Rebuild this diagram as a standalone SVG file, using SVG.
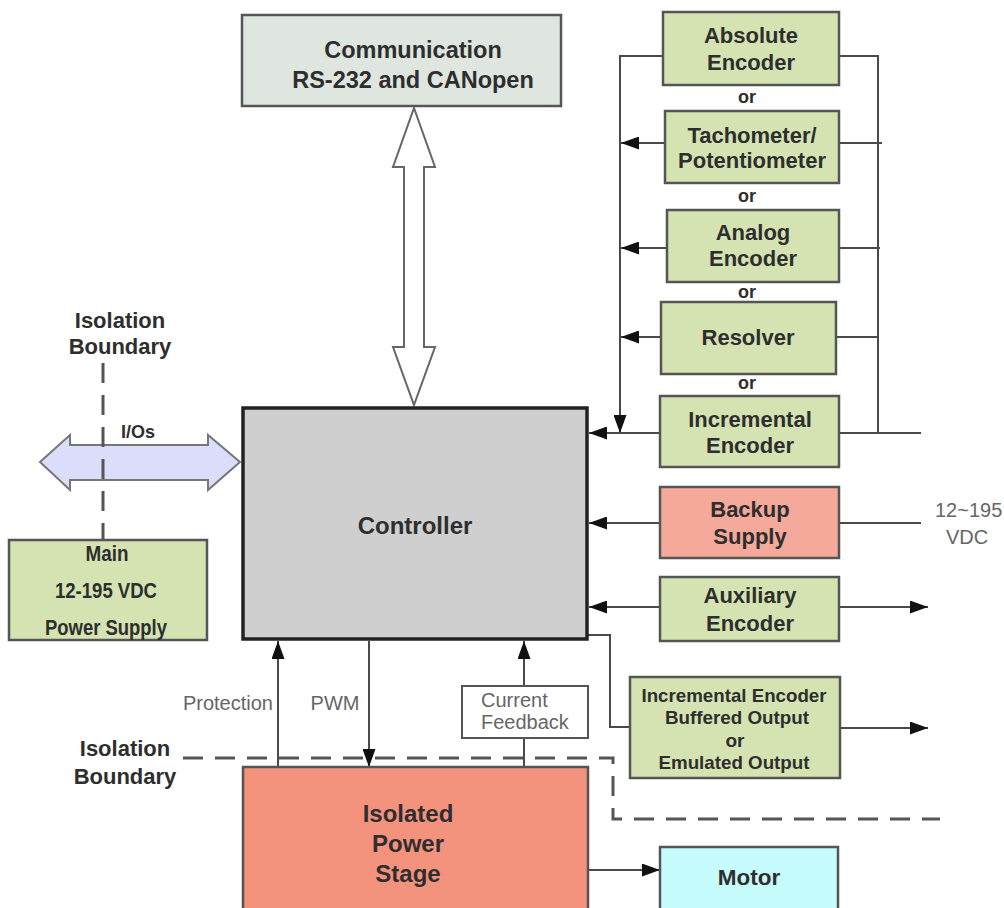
<svg xmlns="http://www.w3.org/2000/svg" width="1004" height="908" viewBox="0 0 1004 908">
<defs>
<marker id="ah" viewBox="0 0 18 13" refX="18" refY="6.5" markerWidth="18" markerHeight="13" markerUnits="userSpaceOnUse" orient="auto">
<path d="M0,0 L18,6.5 L0,13 z" fill="#111"/>
</marker>
<style>
.box{stroke:#555;stroke-width:2.5}
.green{fill:#d5e3b2}
.t{font-family:"Liberation Sans",Arial,sans-serif;font-weight:bold;fill:#2e2e2e;text-anchor:middle;dominant-baseline:central}
.r{font-family:"Liberation Sans",Arial,sans-serif;fill:#666;dominant-baseline:central}
.ln{fill:none;stroke:#4a4a4a;stroke-width:2}
.arr{fill:none;stroke:#4a4a4a;stroke-width:2;marker-end:url(#ah)}
.dash{fill:none;stroke:#555;stroke-width:3;stroke-dasharray:20 12}
</style>
</defs>
<rect width="1004" height="908" fill="#fff"/>

<g id="connectors">
<polygon points="414,108 435,167 424,167 424,347 435,347 414,405 393,347 404,347 404,167 393,167" fill="#fff" stroke="#666" stroke-width="2"/>
<polygon points="40,462 70,435 70,445 208,445 208,435 240,462 208,490 208,480 70,480 70,490" fill="#dcdcfb" stroke="#777" stroke-width="2"/>
<path class="dash" d="M103,363 V540" stroke-width="2.5"/>
<path class="dash" d="M183,758 H613 V819 H940"/>
<path class="ln" d="M663,56 H620 V415"/>
<path class="arr" d="M620,405 V433"/>
<path class="ln" d="M839,56 H878 V433"/>
<path class="arr" d="M665,143 H621"/>
<path class="ln" d="M839,143 H882"/>
<path class="arr" d="M667,248 H621"/>
<path class="ln" d="M839,248 H880"/>
<path class="arr" d="M661,337 H621"/>
<path class="ln" d="M836,337 H878"/>
<path class="arr" d="M660,433 H589"/>
<path class="ln" d="M839,433 H921"/>
<path class="arr" d="M660,523 H589"/>
<path class="ln" d="M839,523 H921"/>
<path class="arr" d="M660,607 H589"/>
<path class="arr" d="M839,607 H928"/>
<path class="ln" d="M588,635 H610 V727 H630"/>
<path class="arr" d="M840,728 H928"/>
<path class="arr" d="M278,767 V641"/>
<path class="arr" d="M369,641 V767"/>
<path class="ln" d="M524,767 V738"/>
<path class="arr" d="M524,686 V641"/>
<path class="arr" d="M588,870 H660"/>
</g>

<g id="communication">
<rect class="box" x="242" y="15" width="319" height="91" fill="#dee6df"/>
<text class="t" x="413" y="50" font-size="23.5">Communication</text>
<text class="t" x="413" y="80" font-size="23.5">RS-232  and CANopen</text>
</g>

<g id="controller">
<rect x="243" y="408" width="344" height="231" fill="#cfcfcf" stroke="#222" stroke-width="3.5"/>
<text class="t" x="415" y="525" font-size="24">Controller</text>
</g>

<g id="absolute-encoder">
<rect class="box green" x="663" y="12" width="176" height="73"/>
<text class="t" x="751" y="35" font-size="22">Absolute</text>
<text class="t" x="751" y="62" font-size="22">Encoder</text>
</g>
<g id="or-labels">
<text class="t" x="747" y="97" font-size="18">or</text>
<text class="t" x="747" y="196" font-size="18">or</text>
<text class="t" x="747" y="292" font-size="18">or</text>
<text class="t" x="747" y="383" font-size="18">or</text>
</g>
<g id="tachometer">
<rect class="box green" x="665" y="111" width="174" height="72"/>
<text class="t" x="752" y="135" font-size="22">Tachometer/</text>
<text class="t" x="752" y="160" font-size="22">Potentiometer</text>
</g>
<g id="analog-encoder">
<rect class="box green" x="667" y="210" width="172" height="72"/>
<text class="t" x="753" y="232" font-size="22">Analog</text>
<text class="t" x="753" y="258" font-size="22">Encoder</text>
</g>
<g id="resolver">
<rect class="box green" x="661" y="302" width="175" height="72"/>
<text class="t" x="748" y="337" font-size="22">Resolver</text>
</g>
<g id="incremental-encoder">
<rect class="box green" x="660" y="396" width="179" height="71"/>
<text class="t" x="750" y="419" font-size="22">Incremental</text>
<text class="t" x="750" y="445" font-size="22">Encoder</text>
</g>
<g id="backup-supply">
<rect class="box" x="660" y="487" width="179" height="71" fill="#f4a99b"/>
<text class="t" x="750" y="509" font-size="22">Backup</text>
<text class="t" x="750" y="536" font-size="22">Supply</text>
</g>
<g id="vdc-label">
<text class="r" x="935" y="510" font-size="20">12~195</text>
<text class="r" x="967" y="537" font-size="20" text-anchor="middle">VDC</text>
</g>
<g id="auxiliary-encoder">
<rect class="box green" x="660" y="577" width="179" height="64"/>
<text class="t" x="750" y="595" font-size="22">Auxiliary</text>
<text class="t" x="750" y="623" font-size="22">Encoder</text>
</g>
<g id="buffered-output">
<rect class="box green" x="630" y="677" width="210" height="101"/>
<text class="t" x="734" y="695" font-size="19" textLength="185" lengthAdjust="spacingAndGlyphs">Incremental Encoder</text>
<text class="t" x="737" y="717" font-size="19" textLength="144" lengthAdjust="spacingAndGlyphs">Buffered Output</text>
<text class="t" x="735" y="740" font-size="19">or</text>
<text class="t" x="734" y="762" font-size="19" textLength="151" lengthAdjust="spacingAndGlyphs">Emulated Output</text>
</g>
<g id="main-supply">
<rect class="box green" x="9" y="540" width="198" height="100"/>
<text class="t" x="107" y="553" font-size="22" textLength="43" lengthAdjust="spacingAndGlyphs">Main</text>
<text class="t" x="106" y="590" font-size="22" textLength="102" lengthAdjust="spacingAndGlyphs">12-195 VDC</text>
<text class="t" x="106" y="627" font-size="22" textLength="122" lengthAdjust="spacingAndGlyphs">Power Supply</text>
</g>
<g id="isolation-top">
<text class="t" x="120" y="320" font-size="22" fill="#444">Isolation</text>
<text class="t" x="120" y="346" font-size="22" fill="#444">Boundary</text>
</g>
<g id="ios-label">
<text class="t" x="138" y="432" font-size="18">I/Os</text>
</g>
<g id="isolation-bottom">
<text class="t" x="125" y="748" font-size="22" fill="#444">Isolation</text>
<text class="t" x="125" y="776" font-size="22" fill="#444">Boundary</text>
</g>
<g id="signal-labels">
<text class="r" x="273" y="703" font-size="20" text-anchor="end">Protection</text>
<text class="r" x="335" y="703" font-size="20" text-anchor="middle">PWM</text>
</g>
<g id="current-feedback">
<rect x="462" y="686" width="126" height="52" fill="#fff" stroke="#555" stroke-width="2"/>
<text class="r" x="481" y="700" font-size="20">Current</text>
<text class="r" x="481" y="722" font-size="20">Feedback</text>
</g>
<g id="power-stage">
<rect class="box" x="243" y="767" width="345" height="160" fill="#f3927d"/>
<text class="t" x="408" y="813" font-size="24">Isolated</text>
<text class="t" x="408" y="843" font-size="24">Power</text>
<text class="t" x="408" y="873" font-size="24">Stage</text>
</g>
<g id="motor">
<rect class="box" x="660" y="847" width="178" height="80" fill="#c6fcfc"/>
<text class="t" x="749" y="877" font-size="22.5">Motor</text>
</g>
</svg>
